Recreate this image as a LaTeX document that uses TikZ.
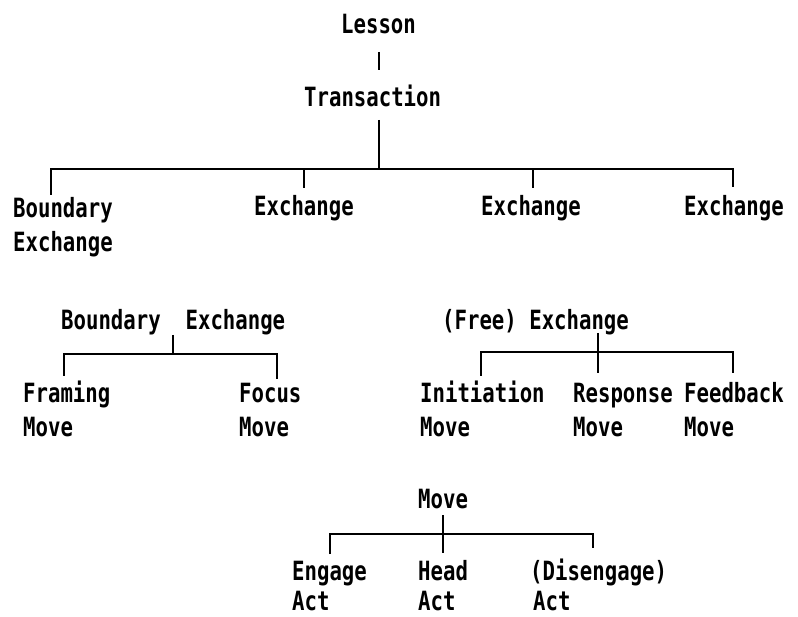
\documentclass[tikz,border=0pt]{standalone}
\usepackage{fontspec}
\newfontfamily\diafont[FakeStretch=0.78]{DejaVu Sans Mono}
\tikzset{
  lbl/.style={anchor=base west, inner sep=0pt, font=\diafont\bfseries\fontsize{26.5}{30}\selectfont},
  ln/.style={line width=2.8pt, black}
}
\begin{document}
\begin{tikzpicture}[x=1pt,y=-1pt]
\fill[white] (0,0) rectangle (798,617);
\useasboundingbox (0,0) rectangle (798,617);
% ---- Tree 1
\node[lbl] (lesson) at (341,34) {Lesson};
\node[lbl] (trans) at (304,107) {Transaction};
\node[lbl] (bnd1) at (13,218) {Boundary};
\node[lbl] (bnd1b) at (13,252) {Exchange};
\node[lbl] (ex2) at (254,216) {Exchange};
\node[lbl] (ex3) at (481,216) {Exchange};
\node[lbl] (ex4) at (684,216) {Exchange};
\coordinate (la) at (379,52); \coordinate (lb) at (379,70);
\coordinate (ta) at (379,120); \coordinate (tj) at (379,169);
\coordinate (b1l) at (51,169); \coordinate (b1r) at (733,169);
\coordinate (k1) at (51,195);
\coordinate (k2a) at (304,169); \coordinate (k2) at (304,188);
\coordinate (k3a) at (533,169); \coordinate (k3) at (533,188);
\coordinate (k4) at (733,187);
\draw[ln] (la) -- (lb);
\draw[ln] (ta) -- (tj);
\draw[ln] (k1) -- (b1l) -- (b1r) -- (k4);
\draw[ln] (k2a) -- (k2);
\draw[ln] (k3a) -- (k3);
% ---- Tree 2 (Boundary Exchange)
\node[lbl] (bex) at (61,330) {Boundary~~Exchange};
\node[lbl] (fram) at (23,403) {Framing};
\node[lbl] (framm) at (23,437) {Move};
\node[lbl] (foc) at (239,403) {Focus};
\node[lbl] (focm) at (239,437) {Move};
\coordinate (bva) at (173,335); \coordinate (bvb) at (173,354);
\coordinate (bl) at (64,354); \coordinate (br) at (277,354);
\coordinate (bkl) at (64,376); \coordinate (bkr) at (277,379);
\draw[ln] (bva) -- (bvb);
\draw[ln] (bkl) -- (bl) -- (br) -- (bkr);
% ---- Tree 3 (Free Exchange)
\node[lbl] (fex) at (442,330) {(Free) Exchange};
\node[lbl] (ini) at (420,403) {Initiation};
\node[lbl] (inim) at (420,437) {Move};
\node[lbl] (res) at (573,403) {Response};
\node[lbl] (resm) at (573,437) {Move};
\node[lbl] (fee) at (684,403) {Feedback};
\node[lbl] (feem) at (684,437) {Move};
\coordinate (fva) at (598,333); \coordinate (fvb) at (598,373);
\coordinate (fl) at (481,352); \coordinate (fr) at (733,352);
\coordinate (fkl) at (481,376); \coordinate (fkr) at (733,373);
\draw[ln] (fva) -- (fvb);
\draw[ln] (fkl) -- (fl) -- (fr) -- (fkr);
% ---- Tree 4 (Move)
\node[lbl] (mov) at (418,508) {Move};
\node[lbl] (eng) at (292,580) {Engage};
\node[lbl] (enga) at (292,610) {Act};
\node[lbl] (hea) at (418,580) {Head};
\node[lbl] (heaa) at (418,610) {Act};
\node[lbl] (dis) at (530,580) {(Disengage)};
\node[lbl] (disa) at (533,610) {Act};
\coordinate (mva) at (443,515); \coordinate (mvb) at (443,553);
\coordinate (ml) at (330,534); \coordinate (mr) at (593,534);
\coordinate (mkl) at (330,554); \coordinate (mkr) at (593,548);
\draw[ln] (mva) -- (mvb);
\draw[ln] (mkl) -- (ml) -- (mr) -- (mkr);
\end{tikzpicture}
\end{document}
